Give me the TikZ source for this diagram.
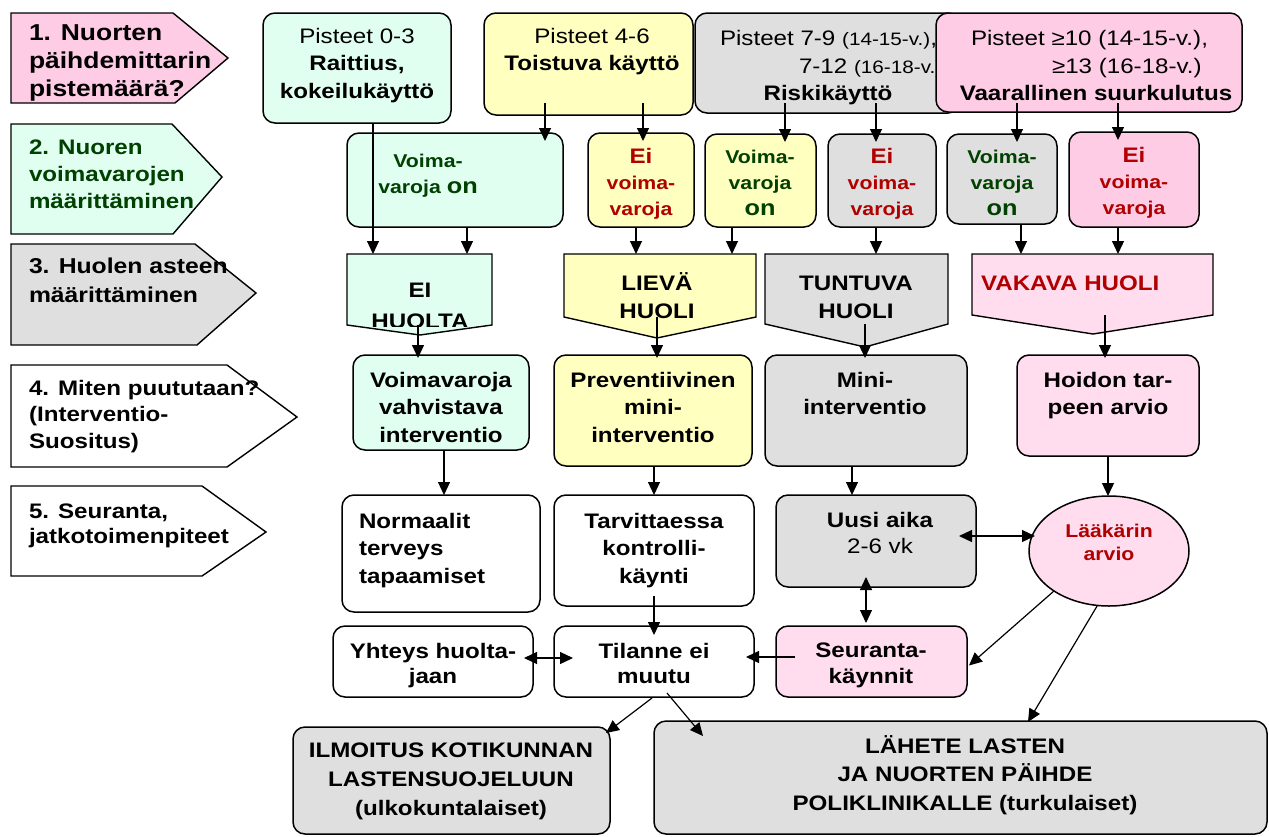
\documentclass[tikz,border=0pt]{standalone}
\usepackage{fontspec}
\setmainfont{Liberation Sans}[FakeStretch=1.15]
\usetikzlibrary{arrows.meta,shapes.geometric,calc}
\definecolor{cpink}{HTML}{FFCCE6}
\definecolor{cpinkl}{HTML}{FFDDEE}
\definecolor{cgreen}{HTML}{E0FFF0}
\definecolor{cyellow}{HTML}{FFFFC0}
\definecolor{cgray}{HTML}{DFDFDF}
\definecolor{tgreen}{HTML}{004000}
\definecolor{tred}{HTML}{B00000}
\newcommand\fz[2]{\fontsize{#1}{#2}\selectfont}
\newcommand\st{\rule{0pt}{20pt}}
\tikzset{
  box/.style={draw, line width=1.5pt, rounded corners=12pt, inner sep=0pt, outer sep=0pt},
  tag/.style={draw, line width=1.4pt},
  tx/.style={inner sep=0pt, outer sep=0pt, anchor=north, align=center, font=\fz{21}{27.5}\bfseries},
  tl/.style={inner sep=0pt, outer sep=0pt, anchor=base west, font=\fz{21}{27}\mdseries},
  frame/.style={inner sep=0pt, outer sep=0pt},
  arr/.style={line width=1.2pt, -{Triangle[length=13pt,width=12pt]}},
  darr/.style={line width=1.2pt, {Triangle[length=13pt,width=12pt]}-{Triangle[length=13pt,width=12pt]}}
}
\begin{document}
\begin{tikzpicture}[x=1pt,y=-1pt]
\useasboundingbox (0,0) rectangle (1269,836);
\fill[white] (0,0) rectangle (1269,836);

% ---------- left step tags ----------
\draw[tag, fill=cpink] (11,13) -- (173,13) -- (228,58) -- (175,103) -- (11,103) -- cycle;
\node[tx, anchor=north west, align=left, font=\fz{23}{28}\bfseries] (tag1) at (29,40-20) {\st 1. Nuorten\\päihdemittarin\\pistemäärä?};
\draw[tag, fill=cgreen] (11,124) -- (172,124) -- (222,177) -- (173,234) -- (11,234) -- cycle;
\node[tx, anchor=north west, align=left, text=tgreen, font=\fz{21}{27}\bfseries] (tag2) at (29,154-20) {\st 2. Nuoren\\voimavarojen\\määrittäminen};
\draw[tag, fill=cgray] (11,244) -- (195,244) -- (256,293) -- (197,345) -- (11,345) -- cycle;
\node[tx, anchor=north west, align=left, font=\fz{21.5}{29}\bfseries] (tag3) at (29,273-20) {\st 3. Huolen asteen\\määrittäminen};
\draw[tag, fill=white] (11,365) -- (227,365) -- (297,417) -- (227,467) -- (11,467) -- cycle;
\node[tx, anchor=north west, align=left, font=\fz{21}{26.5}\bfseries] (tag4) at (29,395-20) {\st 4. Miten puututaan?\\(Interventio-\\Suositus)};
\draw[tag, fill=white] (11,486) -- (202,486) -- (266,532) -- (202,576) -- (11,576) -- cycle;
\node[tx, anchor=north west, align=left, font=\fz{21}{25}\bfseries] (tag5) at (29,518-20) {\st 5. Seuranta,\\jatkotoimenpiteet};

% ---------- row 1: scores ----------
\node[box, fill=cgreen, minimum width=188pt, minimum height=110pt] (p03) at (357,68) {};
\node[tx] (p03t) at (357,43-20) {\st{\mdseries Pisteet 0-3}\\Raittius,\\kokeilukäyttö};
\node[box, fill=cyellow, minimum width=209pt, minimum height=102pt] (p46) at (588.5,64) {};
\node[tx] (p46t) at (592,43-20) {\st{\mdseries Pisteet 4-6}\\Toistuva käyttö};
\node[box, fill=cgray, minimum width=265pt, minimum height=100pt] (p79) at (827.5,63) {};
\node[tl] (p79a) at (720,45) {Pisteet 7-9 {\fz{18}{20}(14-15-v.)},};
\node[tl] (p79b) at (799,73) {7-12 {\fz{18}{20}(16-18-v.)}};
\node[tx, anchor=base] (p79c) at (828,100) {Riskikäyttö};
\node[box, fill=cpink, minimum width=306pt, minimum height=99pt] (p10) at (1089,62.5) {};
\node[tl] (p10a) at (971,45) {Pisteet ≥10 (14-15-v.),};
\node[tl] (p10b) at (1052,73) {≥13 (16-18-v.)};
\node[tx, anchor=base] (p10c) at (1096,100) {Vaarallinen suurkulutus};

% ---------- row 2: resources ----------
\node[box, fill=cgreen, minimum width=216pt, minimum height=94pt] (v1) at (455,180) {};
\node[tx, text=tgreen, font=\fz{18.5}{26}\bfseries] (v1t) at (428,167-20) {\st Voima-\\varoja {\fz{22}{26}on}};
\node[box, fill=cyellow, minimum width=106pt, minimum height=94pt] (e1) at (641,180) {};
\node[tx, text=tred, font=\fz{18.5}{26}\bfseries] (e1t) at (641,163-20) {\st{\fz{21}{26}Ei}\\voima-\\varoja};
\node[box, fill=cyellow, minimum width=111pt, minimum height=93pt] (v2) at (760.5,180.5) {};
\node[tx, text=tgreen, font=\fz{18.5}{26}\bfseries] (v2t) at (760,163-20) {\st Voima-\\varoja\\{\fz{22}{26}on}};
\node[box, fill=cgray, minimum width=108pt, minimum height=93pt] (e2) at (882,180.5) {};
\node[tx, text=tred, font=\fz{18.5}{26}\bfseries] (e2t) at (882,163-20) {\st{\fz{21}{26}Ei}\\voima-\\varoja};
\node[box, fill=cgray, minimum width=110pt, minimum height=90pt] (v3) at (1002,179) {};
\node[tx, text=tgreen, font=\fz{18.5}{26}\bfseries] (v3t) at (1002,163-20) {\st Voima-\\varoja\\{\fz{22}{26}on}};
\node[box, fill=cpink, minimum width=130pt, minimum height=95pt] (e3) at (1134,179.5) {};
\node[tx, text=tred, font=\fz{18.5}{26}\bfseries] (e3t) at (1134,162-20) {\st{\fz{21}{26}Ei}\\voima-\\varoja};

% ---------- row 3: degree of concern ----------
\node[frame, minimum width=145pt, minimum height=71pt] (h1) at (419.5,289.5) {};
\coordinate (h1tip) at (420,335);
\draw[tag, fill=cgreen] (h1.north west) -- (h1.north east) -- (h1.south east) -- (h1tip) -- (h1.south west) -- cycle;
\begin{scope}
  \clip (h1.north west) rectangle ($(h1.south east)+(0,1)$);
  \node[tx, font=\fz{21}{31}\bfseries] (h1t) at (420,297-20) {\st EI\\HUOLTA};
\end{scope}
\node[frame, minimum width=192pt, minimum height=63pt] (h2) at (660,285.5) {};
\coordinate (h2tip) at (657,338);
\draw[tag, fill=cyellow] (h2.north west) -- (h2.north east) -- (h2.south east) -- (h2tip) -- (h2.south west) -- cycle;
\node[tx, font=\fz{21}{28}\bfseries] (h2t) at (657,290-20) {\st LIEVÄ\\HUOLI};
\node[frame, minimum width=183pt, minimum height=70pt] (h3) at (856.5,289) {};
\coordinate (h3tip) at (865,347);
\draw[tag, fill=cgray] (h3.north west) -- (h3.north east) -- (h3.south east) -- (h3tip) -- (h3.south west) -- cycle;
\node[tx, font=\fz{21}{28}\bfseries] (h3t) at (856,290-20) {\st TUNTUVA\\HUOLI};
\node[frame, minimum width=241pt, minimum height=61pt] (h4) at (1092.5,284.5) {};
\coordinate (h4tip) at (1093,334);
\draw[tag, fill=cpinkl] (h4.north west) -- (h4.north east) -- (h4.south east) -- (h4tip) -- (h4.south west) -- cycle;
\node[tx, anchor=base west, text=tred] (h4t) at (981,290) {VAKAVA HUOLI};

% ---------- row 4: interventions ----------
\node[box, fill=cgreen, minimum width=176pt, minimum height=95pt] (i1) at (441,402.5) {};
\node[tx] (i1t) at (441,387-20) {\st Voimavaroja\\vahvistava\\interventio};
\node[box, fill=cyellow, minimum width=198pt, minimum height=111pt] (i2) at (653,410.5) {};
\node[tx] (i2t) at (653,387-20) {\st Preventiivinen\\mini-\\interventio};
\node[box, fill=cgray, minimum width=202pt, minimum height=111pt] (i3) at (866,410.5) {};
\node[tx] (i3t) at (865,387-20) {\st Mini-\\interventio};
\node[box, fill=cpinkl, minimum width=182pt, minimum height=101pt] (i4) at (1108,405.5) {};
\node[tx] (i4t) at (1108,387-20) {\st Hoidon tar-\\peen arvio};

% ---------- row 5: follow-up ----------
\node[box, fill=white, minimum width=198pt, minimum height=117pt] (n1) at (441,553.5) {};
\node[tx, anchor=north west, align=left] (n1t) at (359,528-20) {\st Normaalit\\terveys\\tapaamiset};
\node[box, fill=white, minimum width=200pt, minimum height=111pt] (n2) at (654,550.5) {};
\node[tx] (n2t) at (654,528-20) {\st Tarvittaessa\\kontrolli-\\käynti};
\node[box, fill=cgray, minimum width=200pt, minimum height=92pt] (n3) at (876,541) {};
\node[tx, font=\fz{21}{26}\bfseries] (n3t) at (880,527-20) {\st Uusi aika\\{\mdseries 2-6 vk}};
\node[draw, ellipse, line width=1.5pt, fill=cpinkl, minimum width=160pt, minimum height=110pt, inner sep=0pt, outer sep=0pt] (ell) at (1109,551) {};
\node[tx, text=tred, font=\fz{18.5}{23}\bfseries] (ellt) at (1109,537-20) {\st Lääkärin\\arvio};

% ---------- row 6 ----------
\node[box, fill=white, minimum width=200pt, minimum height=71pt] (y1) at (433,661.5) {};
\node[tx, font=\fz{21}{25}\bfseries] (y1t) at (433,658-20) {\st Yhteys huolta-\\jaan};
\node[box, fill=white, minimum width=200pt, minimum height=71pt] (t1) at (654,661.5) {};
\node[tx, font=\fz{21}{25}\bfseries] (t1t) at (654,658-20) {\st Tilanne ei\\muutu};
\node[box, fill=cpinkl, minimum width=191pt, minimum height=71pt] (s1) at (871.5,661.5) {};
\node[tx, font=\fz{21}{26}\bfseries] (s1t) at (871,657-20) {\st Seuranta-\\käynnit};

% ---------- bottom ----------
\node[box, fill=cgray, minimum width=317pt, minimum height=107pt] (b1) at (451.5,780.5) {};
\node[tx, font=\fz{21}{29}\bfseries] (b1t) at (451,757-20) {\st ILMOITUS KOTIKUNNAN\\LASTENSUOJELUUN\\(ulkokuntalaiset)};
\node[box, fill=cgray, minimum width=613pt, minimum height=113pt] (b2) at (960.5,777.5) {};
\node[tx, font=\fz{21}{28.5}\bfseries] (b2t) at (965,753-20) {\st LÄHETE LASTEN\\JA NUORTEN PÄIHDE\\POLIKLINIKALLE (turkulaiset)};

% ---------- connectors ----------
\draw[arr] ($(p03.south)+(16,0)$) -- ($(p03.south |- h1.north)+(16,0)$);
\draw[arr] ($(p46.south)+(-43.5,-12)$) -- ($(p46.south |- v1.north)+(-43.5,8)$);
\draw[arr] ($(p46.south)+(54.5,-12)$) -- ($(p46.south |- e1.north)+(54.5,8)$);
\draw[arr] ($(p79.south)+(-42.5,-10)$) -- ($(p79.south |- v2.north)+(-42.5,8)$);
\draw[arr] ($(p79.south)+(48.5,-10)$) -- ($(p79.south |- e2.north)+(48.5,8)$);
\draw[arr] ($(p10.south)+(-72,-9)$) -- ($(p10.south |- v3.north)+(-72,8)$);
\draw[arr] ($(p10.south)+(29,-9)$) -- ($(p10.south |- e3.north)+(29,8)$);

\draw[arr] ($(v1.south)+(12,0)$) -- ($(v1.south |- h1.north)+(12,0)$);
\draw[arr] ($(e1.south)+(-5,0)$) -- ($(e1.south |- h2.north)+(-5,0)$);
\draw[arr] ($(v2.south)+(-28.5,0)$) -- ($(v2.south |- h2.north)+(-28.5,0)$);
\draw[arr] ($(e2.south)+(-6,0)$) -- ($(e2.south |- h3.north)+(-6,0)$);
\draw[arr] ($(v3.south)+(19,0)$) -- ($(v3.south |- h4.north)+(19,0)$);
\draw[arr] ($(e3.south)+(-16,0)$) -- ($(e3.south |- h4.north)+(-16,0)$);

\draw[arr] ($(h1.south)+(-1.5,0)$) -- ($(h1.south |- i1.north)+(-1.5,3)$);
\draw[arr] ($(h2.south)+(-3,0)$) -- ($(h2.south |- i2.north)+(-3,3)$);
\draw[arr] ($(h3.south)+(8.5,0)$) -- ($(h3.south |- i3.north)+(8.5,3)$);
\draw[arr] ($(h4.south)+(12.5,0)$) -- ($(h4.south |- i4.north)+(12.5,3)$);

\draw[arr] ($(i1.south)+(3,0)$) -- ($(i1.south |- n1.north)+(3,0)$);
\draw[arr] ($(i2.south)+(1,0)$) -- ($(i2.south |- n2.north)+(1,0)$);
\draw[arr] ($(i3.south)+(-14,0)$) -- ($(i3.south |- n3.north)+(-14,0)$);
\draw[arr] (i4.south) -- (i4.south |- ell.north);

\draw[darr] ($(n3.east)+(-17,-5)$) -- ($(n3.east -| ell.west)+(6,-5)$);
\draw[darr] ($(n3.south)+(-10,-10)$) -- ($(n3.south |- s1.north)+(-10,-3)$);
\draw[arr] ($(n2.south)+(0,-10)$) -- ($(n2.south |- t1.north)+(0,9)$);
\draw[arr] ($(s1.west)+(19,-4.5)$) -- ($(t1.east)+(-8,-4.5)$);
\draw[darr] ($(y1.east)+(-9,-3.5)$) -- ($(t1.west)+(19,-3.5)$);
\draw[arr] (ell.216) -- ($(s1.east)+(2,4)$);
\draw[arr] (ell.258) -- ($(b2.north)+(67.5,1)$);
\draw[arr] ($(t1.south)+(-2,1)$) -- ($(b1.north east)+(-4,6)$);
\draw[arr] ($(t1.south)+(13,-4)$) -- ($(b2.north west)+(49,15)$);
\end{tikzpicture}
\end{document}
